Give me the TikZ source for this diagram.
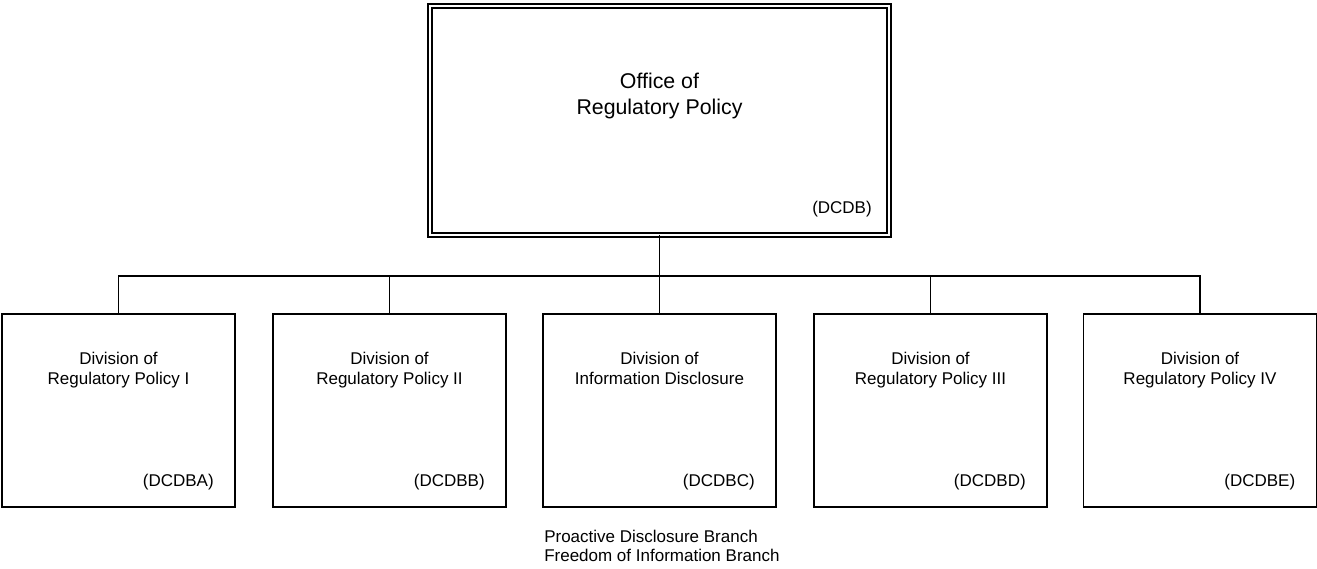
\documentclass[tikz,border=0pt]{standalone}
\usepackage{fontspec}
\setmainfont{Liberation Sans}
\usetikzlibrary{positioning}

\begin{document}
\begin{tikzpicture}[x = .75pt, y = .75pt,
  office/.style = {rectangle, draw, double, double distance = 1.5pt, line width = 1.3pt,
    minimum width = 344.25pt, minimum height = 171.75pt, inner sep = 0pt, outer sep = 0pt},
  division/.style = {rectangle, draw, line width = 1.4pt,
    minimum width = 174.75pt, minimum height = 144.75pt, inner sep = 0pt, outer sep = 0pt},
  bigtitle/.style = {inner sep = 0pt, align = center, font = \fontsize{16}{19.5}\selectfont},
  boxtitle/.style = {inner sep = 0pt, align = center, font = \fontsize{12.75}{14.6}\selectfont},
  unitcode/.style = {inner sep = 0pt, anchor = base east, font = \fontsize{12.75}{14.6}\selectfont},
  branches/.style = {inner sep = 0pt, align = left, font = \fontsize{12.75}{14.25}\selectfont},
  link/.style = {line width = 1.4pt}]
  \useasboundingbox (0,0) rectangle (1317,568);

  % office
  \node (orp) at (659.5,447.5) [office] {};
  \node [bigtitle, below = 50.25pt of orp.north] {Office of\\Regulatory Policy};
  \node [unitcode] at ([xshift = -12.75pt, yshift = 16pt]orp.south east) {(DCDB)};

  % divisions
  \node (dv1) at (118.5,157.5) [division] {};
  \node (dv2) at (389.5,157.5) [division] {};
  \node (dv3) at (659.5,157.5) [division] {};
  \node (dv4) at (930.5,157.5) [division] {};
  \node (dv5) at (1200,157.5) [division] {};

  \node [boxtitle, below = 28.5pt of dv1.north] {Division of\\Regulatory Policy I};
  \node [boxtitle, below = 28.5pt of dv2.north] {Division of\\Regulatory Policy II};
  \node [boxtitle, below = 28.5pt of dv3.north] {Division of\\Information Disclosure};
  \node [boxtitle, below = 28.5pt of dv4.north] {Division of\\Regulatory Policy III};
  \node [boxtitle, below = 28.5pt of dv5.north] {Division of\\Regulatory Policy IV};

  \node [unitcode] at ([xshift = -15.75pt, yshift = 15.75pt]dv1.south east) {(DCDBA)};
  \node [unitcode] at ([xshift = -15.75pt, yshift = 15.75pt]dv2.south east) {(DCDBB)};
  \node [unitcode] at ([xshift = -15.75pt, yshift = 15.75pt]dv3.south east) {(DCDBC)};
  \node [unitcode] at ([xshift = -15.75pt, yshift = 15.75pt]dv4.south east) {(DCDBD)};
  \node [unitcode] at ([xshift = -15.75pt, yshift = 15.75pt]dv5.south east) {(DCDBE)};

  \node (br) [branches, below right = 17.25pt and .75pt of dv3.south west]
    {Proactive Disclosure Branch\\Freedom of Information Branch};

  % connectors
  \coordinate (bus) at (659.5,292);
  \draw [link] (orp.south) -- (bus);
  \draw [link] (dv1.north) |- (bus) -| (dv5.north);
  \draw [link] (dv2.north) -- (dv2.north |- bus);
  \draw [link] (dv3.north) -- (bus);
  \draw [link] (dv4.north) -- (dv4.north |- bus);
\end{tikzpicture}
\end{document}
